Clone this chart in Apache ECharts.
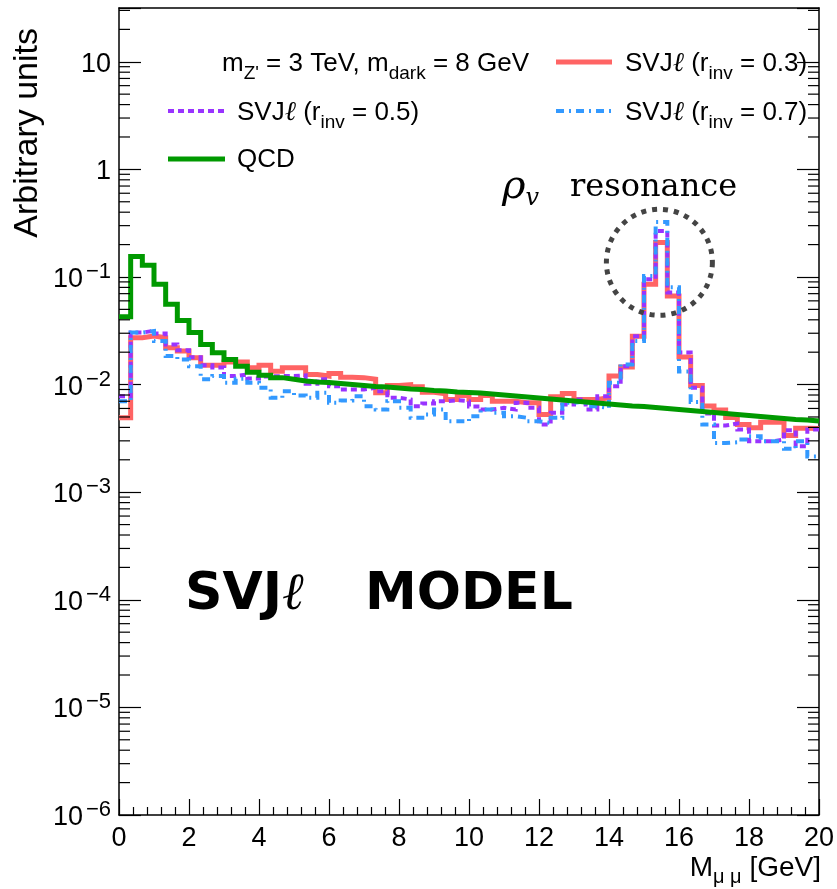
<!DOCTYPE html>
<html>
<head>
<meta charset="utf-8">
<script src="https://cdn.jsdelivr.net/npm/echarts@6/dist/echarts.min.js"></script>
<style>
  html, body { margin: 0; padding: 0; background: #fff; }
  #chart { width: 837px; height: 889px; }
</style>
</head>
<body>
<div id="chart"></div>
<script>
// Dimuon invariant mass, 60 bins of 1/3 GeV between 0 and 20 GeV
const binLow = 0;
const binHigh = 20;
const nBins = 60;

// SVJl signal, r_inv = 0.3
const svjR03 = [
  0.00491, 0.0273, 0.0282, 0.0273, 0.0220, 0.0205, 0.0178, 0.0151, 0.0151, 0.0162,
  0.0162, 0.0143, 0.0151, 0.0133, 0.0143, 0.0143, 0.0124, 0.0120, 0.0127, 0.0117,
  0.0116, 0.0112, 0.00839, 0.00981, 0.0100, 0.00954, 0.00850, 0.00821, 0.00727, 0.00792,
  0.00727, 0.00792, 0.00700, 0.00700, 0.00677, 0.00677, 0.00527, 0.00770, 0.00826, 0.00727,
  0.00727, 0.00754, 0.0120, 0.0146, 0.0282, 0.0855, 0.209, 0.0665, 0.0180, 0.00981,
  0.00632, 0.00580, 0.00494, 0.00425, 0.00396, 0.00446, 0.00446, 0.00337, 0.00392, 0.00390
];
// SVJl signal, r_inv = 0.5
const svjR05 = [
  0.00780, 0.0304, 0.0317, 0.0299, 0.0236, 0.0208, 0.0179, 0.0151, 0.0144, 0.0120,
  0.0124, 0.0114, 0.0119, 0.0120, 0.0120, 0.0122, 0.0102, 0.0112, 0.00966, 0.00900,
  0.00900, 0.00934, 0.00868, 0.00754, 0.00727, 0.00629, 0.00667, 0.00700, 0.00716, 0.00700,
  0.00625, 0.00586, 0.00608, 0.00586, 0.00677, 0.00608, 0.00425, 0.00546, 0.00653, 0.00727,
  0.00586, 0.00780, 0.00966, 0.0148, 0.0282, 0.0952, 0.268, 0.0716, 0.0199, 0.00934,
  0.00538, 0.00416, 0.00434, 0.00382, 0.00297, 0.00297, 0.00308, 0.00376, 0.00267, 0.00382
];
// SVJl signal, r_inv = 0.7
const svjR07 = [
  0.00700, 0.0304, 0.0314, 0.0254, 0.0184, 0.0171, 0.0148, 0.0112, 0.0120, 0.0104,
  0.0113, 0.0104, 0.00934, 0.00754, 0.00868, 0.00792, 0.00754, 0.00839, 0.00677, 0.00711,
  0.00780, 0.00629, 0.00586, 0.00700, 0.00608, 0.00491, 0.00527, 0.00586, 0.00456, 0.00456,
  0.00508, 0.00586, 0.00546, 0.00508, 0.00491, 0.00456, 0.00441, 0.00491, 0.00677, 0.00700,
  0.00629, 0.00608, 0.0104, 0.0154, 0.0254, 0.102, 0.325, 0.0802, 0.0132, 0.00689,
  0.00425, 0.00287, 0.00291, 0.00308, 0.00331, 0.00297, 0.00297, 0.00253, 0.00297, 0.00215
];
// QCD background
const qcd = [
  0.0428, 0.155, 0.1285, 0.0855, 0.0557, 0.0395, 0.0304, 0.0236, 0.0198, 0.0171,
  0.0148, 0.0130, 0.0122, 0.0116, 0.0112, 0.0108, 0.01057, 0.01046, 0.01024, 0.01002,
  0.00981, 0.00960, 0.00950, 0.00930, 0.00910, 0.00900, 0.00881, 0.00872, 0.00853, 0.00844,
  0.00835, 0.00818, 0.00800, 0.00783, 0.00766, 0.00750, 0.00734, 0.00719, 0.00704, 0.00689,
  0.00674, 0.00660, 0.00646, 0.00632, 0.00625, 0.00612, 0.00599, 0.00586, 0.00574, 0.00562,
  0.00550, 0.00538, 0.00527, 0.00516, 0.00505, 0.00494, 0.00483, 0.00473, 0.00468, 0.00458
];

// Axis ranges
const yMin = 1e-6;
const yMax = 31.6;
const xTickStep = 2;

// Resonance marker (data coordinates of the circle centre)
const resonanceX = 15.44;
const resonanceY = 0.137;

const FONT = '"Liberation Sans", Arial, Helvetica, sans-serif';
const colors = { r03: '#ff6464', r05: '#9933ff', r07: '#3399ff', qcd: '#009900' };

// Step-histogram points: one point per lower bin edge, plus the closing edge
function histPoints(values) {
  const w = (binHigh - binLow) / nBins;
  const pts = values.map((v, i) => [binLow + i * w, v]);
  pts.push([binHigh, values[values.length - 1]]);
  return pts;
}

// Minor tick values for the log axis (2..9 x 10^n)
const minorTicks = [];
for (let e = -6; e <= 1; e++) {
  for (let m = 2; m <= 9; m++) {
    const v = m * Math.pow(10, e);
    if (v < yMax) minorTicks.push(v);
  }
}

function logLabel(value) {
  const lg = Math.log10(value);
  const e = Math.round(lg);
  if (Math.abs(lg - e) > 1e-6) return '';
  if (e === 1) return '{b|10}';
  if (e === 0) return '{b|1}';
  return '{b|10}{s|\u2212' + (-e) + '}';
}

const chart = echarts.init(document.getElementById('chart'), null, { renderer: 'canvas' });

const gridBox = { left: 119, right: 17, top: 8, bottom: 74 };

function histSeries(name, values, color, width, dash, z) {
  return {
    name: name,
    type: 'line',
    step: 'end',
    data: histPoints(values),
    showSymbol: false,
    symbol: 'none',
    silent: true,
    clip: true,
    z: z,
    lineStyle: { color: color, width: width, type: dash, cap: 'butt', join: 'miter' }
  };
}

const option = {
  backgroundColor: '#fff',
  animation: false,
  grid: { left: gridBox.left, right: gridBox.right, top: gridBox.top, bottom: gridBox.bottom, containLabel: false },
  xAxis: [
    {
      type: 'value', min: binLow, max: binHigh, interval: xTickStep,
      axisLine: { show: true, onZero: false, lineStyle: { color: '#000', width: 1.5 } },
      axisTick: { show: true, inside: true, length: 16, lineStyle: { color: '#000', width: 1.2 } },
      minorTick: { show: true, splitNumber: 5, length: 8, lineStyle: { color: '#000', width: 1.2 } },
      axisLabel: { show: true, margin: 10, fontFamily: FONT, fontSize: 27, color: '#000' },
      splitLine: { show: false }
    },
    {
      type: 'value', min: binLow, max: binHigh, interval: xTickStep, position: 'top',
      axisLine: { show: true, onZero: false, lineStyle: { color: '#000', width: 1.5 } },
      axisTick: { show: false },
      axisLabel: { show: false },
      splitLine: { show: false }
    }
  ],
  yAxis: [
    {
      type: 'log', logBase: 10, min: yMin, max: yMax,
      axisLine: { show: true, onZero: false, lineStyle: { color: '#000', width: 1.5 } },
      axisTick: { show: true, inside: true, length: 22, lineStyle: { color: '#000', width: 1.2 } },
      axisLabel: {
        show: true, margin: 8, color: '#000',
        formatter: logLabel,
        rich: {
          b: { fontFamily: FONT, fontSize: 27, color: '#000', verticalAlign: 'bottom', lineHeight: 32 },
          s: { fontFamily: FONT, fontSize: 22, color: '#000', verticalAlign: 'top', lineHeight: 32, padding: [0, 0, 0, 3] }
        }
      },
      splitLine: { show: false }
    },
    {
      type: 'log', logBase: 10, min: yMin, max: yMax, position: 'right',
      axisLine: { show: true, onZero: false, lineStyle: { color: '#000', width: 1.5 } },
      axisTick: { show: true, inside: true, length: 22, lineStyle: { color: '#000', width: 1.2 } },
      axisLabel: { show: false },
      splitLine: { show: false }
    }
  ],
  series: [
    histSeries('SVJl (r_inv = 0.3)', svjR03, colors.r03, 5, 'solid', 2),
    histSeries('SVJl (r_inv = 0.5)', svjR05, colors.r05, 4, [6, 4], 3),
    histSeries('SVJl (r_inv = 0.7)', svjR07, colors.r07, 4, [8, 5, 2, 5], 4),
    histSeries('QCD', qcd, colors.qcd, 5, 'solid', 5),
    {
      // minor ticks of the log axis, drawn on both the left and right frame edges
      type: 'custom',
      silent: true,
      clip: false,
      z: 6,
      encode: { x: 0, y: 1 },
      data: minorTicks.map(v => [binLow, v]),
      renderItem: function (params, api) {
        const l = api.coord([binLow, api.value(1)]);
        const r = api.coord([binHigh, api.value(1)]);
        return {
          type: 'group',
          children: [
            { type: 'line', shape: { x1: l[0], y1: l[1], x2: l[0] + 11, y2: l[1] }, style: { stroke: '#000', lineWidth: 1.2 } },
            { type: 'line', shape: { x1: r[0], y1: r[1], x2: r[0] - 11, y2: r[1] }, style: { stroke: '#000', lineWidth: 1.2 } }
          ]
        };
      }
    }
  ]
};

chart.setOption(option);

// Legend, titles and annotations
const legendText = {
  fontFamily: FONT, fontSize: 26, fill: '#000',
  rich: {
    n: { fontFamily: FONT, fontSize: 26, color: '#000', lineHeight: 38, verticalAlign: 'middle' },
    l: { fontFamily: '"DejaVu Serif", "Liberation Serif", serif', fontStyle: 'italic', fontSize: 27, color: '#000', lineHeight: 38, verticalAlign: 'middle' },
    sub: { fontFamily: FONT, fontSize: 19, color: '#000', lineHeight: 38, verticalAlign: 'bottom' }
  }
};

function svjLabel(r) {
  return '{n|SVJ}{l|\u2113}{n| (r}{sub|inv}{n| = ' + r + ')}';
}

function textEl(x, y, text) {
  return {
    type: 'text', x: x, y: y, silent: true, z: 20,
    style: Object.assign({}, legendText, { text: text, align: 'left', verticalAlign: 'middle' })
  };
}

function sampleLine(x1, x2, y, color, width, dash) {
  return {
    type: 'line', silent: true, z: 20,
    shape: { x1: x1, y1: y, x2: x2, y2: y },
    style: { stroke: color, lineWidth: width, lineDash: dash, lineCap: 'butt' }
  };
}

const centre = chart.convertToPixel({ gridIndex: 0 }, [resonanceX, resonanceY]);

chart.setOption({
  graphic: [
    // legend
    textEl(222, 64, '{n|m}{sub|Z\'}{n| = 3 TeV, m}{sub|dark}{n| = 8 GeV}'),
    sampleLine(556, 612, 62, colors.r03, 5, null),
    textEl(625, 64, svjLabel('0.3')),
    sampleLine(168, 225, 111, colors.r05, 4, [6, 4]),
    textEl(237, 113, svjLabel('0.5')),
    sampleLine(556, 612, 111, colors.r07, 4, [8, 5, 2, 5]),
    textEl(625, 113, svjLabel('0.7')),
    sampleLine(168, 225, 159, colors.qcd, 5, null),
    textEl(237, 160, '{n|QCD}'),
    // y-axis title
    {
      type: 'text', x: 28, y: 28, rotation: Math.PI / 2, silent: true, z: 20,
      style: { text: 'Arbitrary units', fontFamily: FONT, fontSize: 34, fill: '#000', align: 'right', verticalAlign: 'middle' }
    },
    // x-axis title
    {
      type: 'text', x: 821, y: 868, silent: true, z: 20,
      style: {
        text: '{n|M}{sub|\u03bc \u03bc}{n| [GeV]}', align: 'right', verticalAlign: 'middle',
        rich: {
          n: { fontFamily: FONT, fontSize: 28, color: '#000', lineHeight: 38, verticalAlign: 'middle' },
          sub: { fontFamily: FONT, fontSize: 20, color: '#000', lineHeight: 38, verticalAlign: 'bottom' }
        }
      }
    },
    // resonance annotation
    {
      type: 'circle', silent: true, z: 15,
      shape: { cx: centre[0], cy: centre[1], r: 53 },
      style: { fill: 'none', stroke: '#444', lineWidth: 5, lineDash: [5, 6] }
    },
    {
      type: 'text', x: 502, y: 188, silent: true, z: 20,
      style: {
        text: '{rho|\u03c1}{v|v}{t|resonance}', align: 'left', verticalAlign: 'middle',
        rich: {
          rho: { fontFamily: '"DejaVu Serif", serif', fontStyle: 'italic', fontSize: 40, color: '#000', lineHeight: 46, verticalAlign: 'middle' },
          v: { fontFamily: '"DejaVu Serif", serif', fontStyle: 'italic', fontSize: 24, color: '#000', lineHeight: 46, verticalAlign: 'bottom' },
          t: { fontFamily: '"DejaVu Serif", serif', fontSize: 32, color: '#000', lineHeight: 46, verticalAlign: 'middle', padding: [0, 0, 0, 31] }
        }
      }
    },
    // model tag
    {
      type: 'text', x: 185, y: 595, silent: true, z: 20,
      style: {
        text: '{b|SVJ}{l|\u2113}', align: 'left', verticalAlign: 'middle',
        rich: {
          b: { fontFamily: '"DejaVu Sans", sans-serif', fontWeight: 'bold', fontSize: 52, color: '#000', lineHeight: 60 },
          l: { fontFamily: '"DejaVu Serif", serif', fontStyle: 'italic', fontSize: 52, color: '#000', lineHeight: 60 }
        }
      }
    },
    {
      type: 'text', x: 365, y: 595, silent: true, z: 20,
      style: { text: 'MODEL', fontFamily: '"DejaVu Sans", sans-serif', fontWeight: 'bold', fontSize: 52, fill: '#000', align: 'left', verticalAlign: 'middle' }
    }
  ]
});
</script>
</body>
</html>
